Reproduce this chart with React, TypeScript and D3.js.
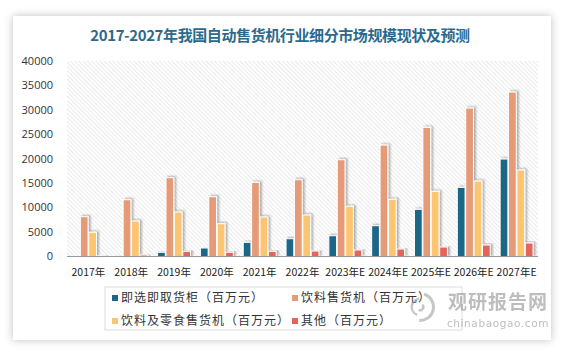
import React, { useEffect, useRef } from "react";
import * as d3 from "d3";

const categories = ["2017年", "2018年", "2019年", "2020年", "2021年", "2022年", "2023年E", "2024年E", "2025年E", "2026年E", "2027年E"];
const seriesNames = ["即选即取货柜（百万元）", "饮料售货机（百万元）", "饮料及零食售货机（百万元）", "其他（百万元）"];
const pickCabinet = [50, 120, 860, 1740, 2900, 3640, 4250, 6300, 9650, 14150, 19940];
const drinkMachine = [8140, 11620, 16120, 12230, 15170, 15710, 19800, 22800, 26420, 30370, 33650];
const snackMachine = [4950, 7260, 9100, 6710, 8080, 8490, 10260, 11700, 13330, 15440, 17690];
const others = [100, 300, 1060, 860, 1060, 1120, 1330, 1530, 1940, 2350, 2760];
const yTicks = [0, 5000, 10000, 15000, 20000, 25000, 30000, 35000, 40000];
const colors = ["#1d6688", "#e59a78", "#fcc572", "#e4645a"];

export default function App() {
  const svgRef = useRef<SVGSVGElement>(null);

  useEffect(() => {
    const width = 565;
    const height = 352;
    const svg = d3.select(svgRef.current).attr("width", width).attr("height", height);
    svg.selectAll("*").remove();

    const defs = svg.append("defs");
    const hatch = defs
      .append("pattern")
      .attr("id", "hatch")
      .attr("patternUnits", "userSpaceOnUse")
      .attr("width", 3)
      .attr("height", 3)
      .attr("patternTransform", "rotate(-45)");
    hatch.append("rect").attr("width", 3).attr("height", 3).attr("fill", "#ffffff");
    hatch.append("line").attr("x1", 0).attr("y1", 0).attr("x2", 0).attr("y2", 3)
      .attr("stroke", "#d6d6d6").attr("stroke-width", 1);

    const cardShadow = defs.append("filter").attr("id", "cardShadow")
      .attr("x", "-10%").attr("y", "-10%").attr("width", "120%").attr("height", "120%");
    cardShadow.append("feDropShadow").attr("dx", 0).attr("dy", 0)
      .attr("stdDeviation", 4).attr("flood-color", "#000").attr("flood-opacity", 0.25);

    const barShadow = defs.append("filter").attr("id", "barShadow")
      .attr("x", "-50%").attr("y", "-10%").attr("width", "250%").attr("height", "120%");
    barShadow.append("feDropShadow").attr("dx", 2).attr("dy", -1)
      .attr("stdDeviation", 1).attr("flood-color", "#000").attr("flood-opacity", 0.3);

    svg.append("rect").attr("width", width).attr("height", height).attr("fill", "#ffffff");
    svg.append("rect").attr("x", 13).attr("y", 16).attr("width", 538).attr("height", 324)
      .attr("fill", "#ffffff").attr("filter", "url(#cardShadow)");

    svg.append("text")
      .attr("x", 280).attr("y", 41)
      .attr("text-anchor", "middle")
      .attr("font-family", "'Noto Sans CJK SC', sans-serif")
      .attr("font-weight", "bold")
      .attr("font-size", 15)
      .attr("letter-spacing", -0.4)
      .attr("fill", "#2b6a8d")
      .text("2017-2027年我国自动售货机行业细分市场规模现状及预测");

    const left = 67, right = 538, top = 61, bottom = 256.5;

    const x0 = d3.scaleBand().domain(categories).range([left, right]).paddingInner(0.2).paddingOuter(0.1);
    const x1 = d3.scaleBand().domain(d3.range(4).map(String)).range([0, x0.bandwidth()]).padding(0.08);
    const y = d3.scaleLinear().domain([0, 40000]).range([bottom, top]);

    svg.append("rect").attr("x", left).attr("y", top).attr("width", right - left).attr("height", bottom - top)
      .attr("fill", "url(#hatch)");

    svg.append("g")
      .selectAll("text")
      .data(yTicks)
      .join("text")
      .attr("x", 53)
      .attr("y", (d) => y(d))
      .attr("dy", "0.35em")
      .attr("text-anchor", "end")
      .attr("font-family", "'Open Sans', 'DejaVu Sans', sans-serif")
      .attr("font-size", 11)
      .attr("fill", "#333")
      .text((d) => String(d));

    const allSeries = [pickCabinet, drinkMachine, snackMachine, others];
    const groups = svg.append("g")
      .selectAll("g")
      .data(categories)
      .join("g")
      .attr("transform", (d) => `translate(${x0(d)},0)`);

    groups.selectAll("rect")
      .data((_, i) => allSeries.map((s, k) => ({ k, v: s[i] })))
      .join("rect")
      .attr("x", (d) => x1(String(d.k)) as number)
      .attr("width", x1.bandwidth())
      .attr("y", (d) => y(d.v))
      .attr("height", (d) => bottom - y(d.v))
      .attr("fill", (d) => colors[d.k])
      .attr("stroke", "#fff")
      .attr("stroke-width", 1)
      .attr("filter", "url(#barShadow)");

    svg.append("line").attr("x1", left).attr("x2", right).attr("y1", bottom).attr("y2", bottom)
      .attr("stroke", "#999").attr("stroke-width", 1);

    svg.append("g")
      .selectAll("text")
      .data(categories)
      .join("text")
      .attr("x", (d) => (x0(d) as number) + x0.bandwidth() / 2)
      .attr("y", 272)
      .attr("dy", "0.35em")
      .attr("text-anchor", "middle")
      .attr("font-family", "'Noto Sans CJK SC', sans-serif")
      .attr("font-size", 10.5)
      .attr("fill", "#222")
      .text((d) => d);

    // legend
    svg.append("rect").attr("x", 105).attr("y", 287).attr("width", 357).attr("height", 43)
      .attr("fill", "#fff").attr("stroke", "#dcdcdc");
    const legendPos = [
      [112, 298], [292, 298], [112, 321], [292, 321],
    ];
    const lg = svg.append("g")
      .selectAll("g")
      .data(seriesNames)
      .join("g")
      .attr("transform", (_, i) => `translate(${legendPos[i][0]},${legendPos[i][1]})`);
    lg.append("rect").attr("x", 0).attr("y", -3).attr("width", 6).attr("height", 6)
      .attr("fill", (_, i) => colors[i]);
    lg.append("text")
      .attr("x", 9).attr("y", 0).attr("dy", "0.35em")
      .attr("font-family", "'Noto Sans CJK SC', sans-serif")
      .attr("font-size", 12)
      .attr("letter-spacing", 1)
      .attr("fill", "#333")
      .text((d) => d);

    // watermark
    const wm = svg.append("g").attr("opacity", 0.55);
    const logo = wm.append("g").attr("transform", "translate(420,307)");
    const arc = d3.arc();
    [[12, 15, 0.3, 3.2], [7, 9.5, 3.5, 6.2], [2, 4.5, 0.8, 3.6]].forEach(([ri, ro, a0, a1]) => {
      logo.append("path")
        .attr("d", arc({ innerRadius: ri, outerRadius: ro, startAngle: a0, endAngle: a1 }) as string)
        .attr("fill", "#999");
    });
    wm.append("text").attr("x", 498).attr("y", 302).attr("dy", "0.35em").attr("text-anchor", "middle")
      .attr("font-family", "'Noto Sans CJK SC', sans-serif").attr("font-weight", "bold")
      .attr("font-size", 19).attr("fill", "#888").attr("letter-spacing", 1).text("观研报告网");
    wm.append("text").attr("x", 498).attr("y", 323).attr("dy", "0.35em").attr("text-anchor", "middle")
      .attr("font-family", "'DejaVu Sans', sans-serif")
      .attr("font-size", 10.5).attr("fill", "#888").attr("letter-spacing", 0.6).text("chinabaogao.com");
  }, []);

  return (
    <div style={{ position: "absolute", left: 0, top: 0, width: 565, height: 352 }}>
      <svg ref={svgRef} style={{ display: "block" }} />
    </div>
  );
}
